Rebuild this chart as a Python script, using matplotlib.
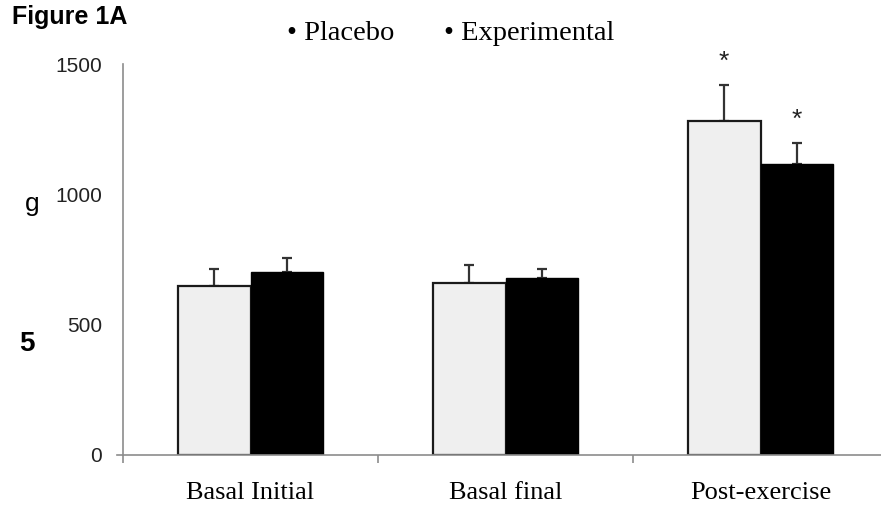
import numpy as np
import matplotlib.pyplot as plt

# values read as group means with the upward error (SE)
groups = ["Basal Initial", "Basal final", "Post-exercise"]
placebo = [646, 659, 1282]
placebo_err = [67, 71, 138]
experimental = [703, 677, 1115]
experimental_err = [51, 36, 82]
significant = [False, False, True]

yticks = [0, 500, 1000, 1500]

fig = plt.figure(figsize=(8.81, 5.05), dpi=100)
ax = fig.add_axes([117 / 881, 50.3 / 505, 771 / 881, 390.7 / 505])

x = np.arange(len(groups))
w = 0.285
axis_grey = "#8c8c8c"

ax.bar(x - w / 2, placebo, w, color="#efefef", edgecolor="#1a1a1a", linewidth=1.6, zorder=2)
ax.bar(x + w / 2, experimental, w, color="black", edgecolor="black", linewidth=1.0, zorder=2)

for xs, vals, errs in [(x - w / 2, placebo, placebo_err), (x + w / 2, experimental, experimental_err)]:
    ax.errorbar(xs, vals, yerr=[np.zeros(len(errs)), errs], fmt="none",
                ecolor="#333333", elinewidth=1.6, capsize=3.8, capthick=1.6, zorder=1)
    # significance marks above the error bars
    for xi, v, e, sig in zip(xs, vals, errs, significant):
        if sig:
            ax.annotate("*", (xi, v + e), xytext=(0, 8), textcoords="offset points",
                        ha="center", va="bottom", fontsize=19, fontfamily="Liberation Sans",
                        color="#222222")

ax.set_xlim(-0.5 - 6 / 255, 2.5)
ax.set_ylim(0, 1500)

for side in ["top", "right"]:
    ax.spines[side].set_visible(False)
ax.spines["left"].set_position(("data", -0.5))
ax.spines["left"].set_color(axis_grey)
ax.spines["bottom"].set_color(axis_grey)
ax.spines["left"].set_linewidth(1.2)
ax.spines["bottom"].set_linewidth(1.2)

ax.set_yticks(yticks)
ax.set_yticklabels([str(t) for t in yticks], fontfamily="Liberation Sans", fontsize=15, color="#222222")
ax.tick_params(axis="y", length=0, pad=15)

ax.set_xticks(x)
ax.set_xticklabels(groups, fontfamily="Liberation Serif", fontsize=19)
ax.tick_params(axis="x", which="major", length=0, pad=20)
ax.set_xticks(np.arange(-0.5, len(groups)), minor=True)
ax.tick_params(axis="x", which="minor", length=6, width=1.2, color=axis_grey, direction="out")

fig.text(12 / 881, 1 - 17 / 505, "Figure 1A", fontfamily="Liberation Sans", fontweight="bold",
         fontsize=18, va="center", ha="left")
fig.text(287 / 881, 1 - 33 / 505, "\u2022 Placebo", fontfamily="Liberation Serif", fontsize=20.5,
         va="center", ha="left")
fig.text(444 / 881, 1 - 33 / 505, "\u2022 Experimental", fontfamily="Liberation Serif", fontsize=20.5,
         va="center", ha="left")
fig.text(25 / 881, 1 - 204 / 505, "g", fontfamily="Liberation Sans", fontsize=19,
         va="center", ha="left")
fig.text(19 / 881, 1 - 344 / 505, "5", fontfamily="Liberation Sans", fontweight="bold", fontsize=20,
         va="center", ha="left")

fig.savefig("out.png", dpi=100)
